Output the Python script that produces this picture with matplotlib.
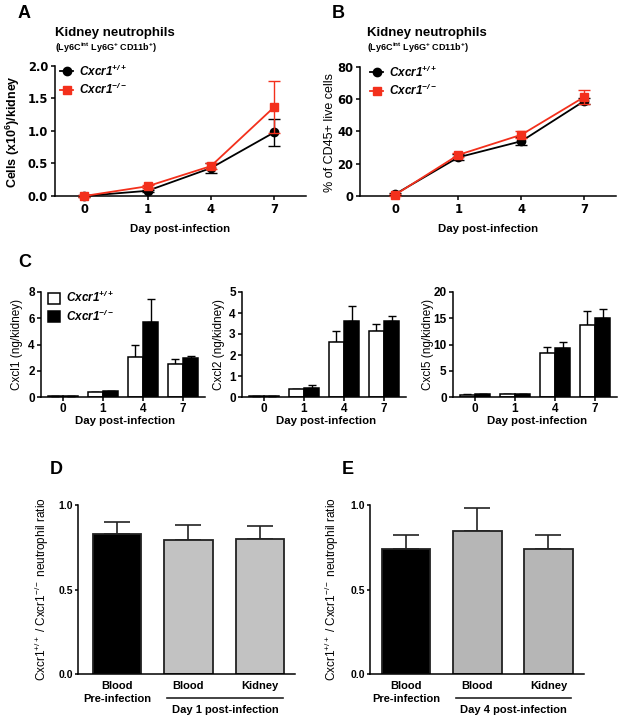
import matplotlib
matplotlib.use('Agg')
import matplotlib.pyplot as plt
import numpy as np
from matplotlib.patches import Patch
from matplotlib.lines import Line2D
import matplotlib.transforms as mtransforms

plt.rcParams['font.family'] = ['Liberation Sans', 'DejaVu Sans']
plt.rcParams['mathtext.fontset'] = 'custom'
plt.rcParams['mathtext.rm'] = 'Liberation Sans'
plt.rcParams['mathtext.it'] = 'Liberation Sans:italic'
plt.rcParams['mathtext.bf'] = 'Liberation Sans:bold'
plt.rcParams['mathtext.sf'] = 'Liberation Sans:bold:italic'

# ---------------- data ----------------
days = ['0', '1', '4', '7']

a_wt = [0.0, 0.08, 0.43, 0.98]
a_wt_err = [0.01, 0.02, 0.07, 0.21]
a_ko = [0.0, 0.15, 0.46, 1.37]
a_ko_err = [0.01, 0.02, 0.05, 0.40]

b_wt = [1.2, 24.0, 34.0, 59.0]
b_wt_err = [0.8, 1.8, 2.5, 1.8]
b_ko = [0.8, 25.5, 38.0, 61.5]
b_ko_err = [0.5, 1.2, 2.0, 4.5]

c1_wt = [0.05, 0.35, 3.05, 2.5]
c1_wt_err = [0.01, 0.04, 0.9, 0.42]
c1_ko = [0.05, 0.42, 5.7, 3.0]
c1_ko_err = [0.01, 0.06, 1.75, 0.12]

c2_wt = [0.04, 0.36, 2.6, 3.15]
c2_wt_err = [0.01, 0.03, 0.55, 0.32]
c2_ko = [0.04, 0.45, 3.63, 3.62]
c2_ko_err = [0.01, 0.10, 0.72, 0.25]

c3_wt = [0.45, 0.55, 8.3, 13.8]
c3_wt_err = [0.05, 0.05, 1.2, 2.5]
c3_ko = [0.6, 0.5, 9.3, 15.1]
c3_ko_err = [0.05, 0.05, 1.2, 1.6]

de_labels = ['Blood\nPre-infection', 'Blood', 'Kidney']
d_vals = [0.83, 0.79, 0.80]
d_err = [0.07, 0.09, 0.075]
e_vals = [0.74, 0.845, 0.74]
e_err = [0.085, 0.135, 0.085]

RED = '#f3301c'
GRAY_D = '#c2c2c2'
GRAY_E = '#b6b6b6'

# ---------------- figure ----------------
W, H = 624, 723
fig = plt.figure(figsize=(W / 100, H / 100), dpi=100)


def add_ax(l, t, r, b):
    return fig.add_axes([l / W, 1 - b / H, (r - l) / W, (b - t) / H])


def ftext(x, y, s, **kw):
    return fig.text(x / W, 1 - y / H, s, **kw)


def style(ax, lw=1.1):
    for s in ['top', 'right']:
        ax.spines[s].set_visible(False)
    for s in ['left', 'bottom']:
        ax.spines[s].set_linewidth(lw)
    ax.tick_params(direction='out', length=3, width=lw, pad=2)


def noclip(container):
    for art in container.get_children():
        art.set_clip_on(False)


x4 = np.arange(len(days))

LEG_WT = r'$\mathsf{Cxcr1}^{\mathsf{+/+}}$'
LEG_KO = r'$\mathsf{Cxcr1}^{\mathsf{-/-}}$'

tick_font_ab = dict(family='DejaVu Sans', weight='bold', size=8.3)


def line_panel(ax, wt, wt_err, ko, ko_err, ylim, yticks, fmt, xlim):
    style(ax)
    c1 = ax.errorbar(x4, wt, yerr=wt_err, color='black', marker='o', ms=6,
                     lw=1.3, capsize=4, capthick=1, elinewidth=1, zorder=3)
    c2 = ax.errorbar(x4, ko, yerr=ko_err, color=RED, marker='s', ms=5.5,
                     lw=1.3, capsize=4, capthick=1, elinewidth=1, zorder=4)
    noclip(c1)
    noclip(c2)
    ax.set_xlim(*xlim)
    ax.set_ylim(*ylim)
    ax.set_xticks(x4)
    ax.set_xticklabels(days)
    ax.set_yticks(yticks)
    ax.set_yticklabels([fmt % v for v in yticks])
    for lab in ax.get_xticklabels() + ax.get_yticklabels():
        lab.set_fontproperties(matplotlib.font_manager.FontProperties(**tick_font_ab))
    handles = [Line2D([], [], color='black', marker='o', ms=6, lw=1.3),
               Line2D([], [], color=RED, marker='s', ms=5.5, lw=1.3)]
    return handles


# ---------------- Panel A ----------------
axA = add_ax(55, 66, 306, 196)
hA = line_panel(axA, a_wt, a_wt_err, a_ko, a_ko_err, (0, 2.0),
                [0, 0.5, 1.0, 1.5, 2.0], '%.1f', (-0.46, 3.5))
axA.legend(hA, [LEG_WT, LEG_KO], loc='upper left', bbox_to_anchor=(0.02, 1.02),
           frameon=False, fontsize=8.5, handlelength=1.1, handletextpad=0.5,
           borderpad=0, borderaxespad=0, labelspacing=0.25)
ftext(18, 14, 'A', fontsize=13, weight='bold', ha='left', va='center')
ftext(55, 33, 'Kidney neutrophils', fontsize=9.5, weight='bold', ha='left', va='center')
ftext(55, 48, r'(Ly6C$^{\mathbf{int}}$ Ly6G$^{\mathbf{+}}$ CD11b$^{\mathbf{+}}$)',
      fontsize=6.5, weight='bold', ha='left', va='center')
ftext(13, 132, r'Cells (x10$^{\mathbf{6}}$)/kidney', fontsize=9, weight='bold',
      rotation=90, ha='center', va='center')
ftext(180, 229, 'Day post-infection', fontsize=8.2, weight='bold', ha='center', va='center')

# ---------------- Panel B ----------------
axB = add_ax(360, 67, 616, 196)
hB = line_panel(axB, b_wt, b_wt_err, b_ko, b_ko_err, (0, 80),
                [0, 20, 40, 60, 80], '%d', (-0.56, 3.5))
axB.legend(hB, [LEG_WT, LEG_KO], loc='upper left', bbox_to_anchor=(0.04, 1.02),
           frameon=False, fontsize=8.5, handlelength=1.1, handletextpad=0.5,
           borderpad=0, borderaxespad=0, labelspacing=0.25)
ftext(332, 14, 'B', fontsize=13, weight='bold', ha='left', va='center')
ftext(367, 33, 'Kidney neutrophils', fontsize=9.5, weight='bold', ha='left', va='center')
ftext(367, 48, r'(Ly6C$^{\mathbf{int}}$ Ly6G$^{\mathbf{+}}$ CD11b$^{\mathbf{+}}$)',
      fontsize=6.5, weight='bold', ha='left', va='center')
ftext(330, 132, '% of CD45+ live cells', fontsize=9, rotation=90, ha='center', va='center')
ftext(488, 229, 'Day post-infection', fontsize=8.2, weight='bold', ha='center', va='center')

# ---------------- Panel C ----------------
ftext(18, 262, 'C', fontsize=13, weight='bold', ha='left', va='center')

c_specs = [
    ((41, 292, 205, 397), c1_wt, c1_wt_err, c1_ko, c1_ko_err, 8, [0, 2, 4, 6, 8], 'Cxcl1 (ng/kidney)', 17),
    ((242, 292, 406, 397), c2_wt, c2_wt_err, c2_ko, c2_ko_err, 5, [0, 1, 2, 3, 4, 5], 'Cxcl2 (ng/kidney)', 219),
    ((453, 292, 617, 397), c3_wt, c3_wt_err, c3_ko, c3_ko_err, 20, [0, 5, 10, 15, 20], 'Cxcl5 (ng/kidney)', 428),
]
bw = 0.37
off = 0.195
for i, (box, wt, wte, ko, koe, ymax, yt, ylab, ylx) in enumerate(c_specs):
    ax = add_ax(*box)
    style(ax)
    ax.bar(x4 - off, wt, width=bw, color='white', edgecolor='black', lw=1.1, zorder=2)
    ax.bar(x4 + off, ko, width=bw, color='black', edgecolor='black', lw=1.1, zorder=2)
    ax.errorbar(x4 - off, wt, yerr=[np.zeros(4), wte], fmt='none', ecolor='black',
                elinewidth=1, capsize=2.8, capthick=1, zorder=1)
    ax.errorbar(x4 + off, ko, yerr=[np.zeros(4), koe], fmt='none', ecolor='black',
                elinewidth=1, capsize=2.8, capthick=1, zorder=1)
    ax.set_xlim(-0.55, 3.55)
    ax.set_ylim(0, ymax)
    ax.set_xticks(x4)
    ax.set_xticklabels(days)
    ax.set_yticks(yt)
    ax.tick_params(labelsize=8.5, pad=1.5)
    for lab in ax.get_xticklabels() + ax.get_yticklabels():
        lab.set_fontweight('bold')
    ftext(ylx, (box[1] + box[3]) / 2, ylab, fontsize=8.5, rotation=90, ha='center', va='center')
    ftext((box[0] + box[2]) / 2 + 2, 421, 'Day post-infection', fontsize=8.2,
          weight='bold', ha='center', va='center')
    if i == 0:
        hC = [Patch(facecolor='white', edgecolor='black', lw=1.1),
              Patch(facecolor='black', edgecolor='black', lw=1.1)]
        ax.legend(hC, [LEG_WT, LEG_KO], loc='upper left', bbox_to_anchor=(0.04, 1.02),
                  frameon=False, fontsize=8.5, handlelength=1.05, handleheight=1.05,
                  handletextpad=0.5, borderpad=0, borderaxespad=0, labelspacing=0.3)

# ---------------- Panels D & E ----------------
YLAB_DE = r'Cxcr1$^{\mathrm{+/+}}$ / Cxcr1$^{\mathrm{-/-}}$ neutrophil ratio'


def ratio_panel(box, vals, errs, gray, xlim, day_text, ylx):
    ax = add_ax(*box)
    style(ax)
    xs = np.arange(len(vals))
    cols = ['black', gray, gray]
    ax.bar(xs, vals, width=0.68, color=cols, edgecolor='#222222', lw=1.3, zorder=2)
    ax.errorbar(xs, vals, yerr=[np.zeros(len(vals)), errs], fmt='none', ecolor='#222222',
                elinewidth=1.2, capsize=9.5, capthick=1.2, zorder=1)
    ax.set_xlim(*xlim)
    ax.set_ylim(0, 1.0)
    ax.set_yticks([0, 0.5, 1.0])
    ax.set_yticklabels(['0.0', '0.5', '1.0'])
    ax.set_xticks(xs)
    ax.set_xticklabels(de_labels, linespacing=1.35)
    ax.tick_params(axis='x', length=0, pad=5, labelsize=8)
    ax.tick_params(axis='y', length=2.5, pad=1, labelsize=7.5)
    for lab in ax.get_xticklabels() + ax.get_yticklabels():
        lab.set_fontweight('bold')
    trans = mtransforms.blended_transform_factory(ax.transData, ax.transAxes)
    hgt = box[3] - box[1]
    yline = (box[3] - 698) / hgt
    ax.plot([0.7, 2.32], [yline, yline], color='#222222', lw=1.2, transform=trans,
            clip_on=False)
    ax.text(1.51, (box[3] - 710) / hgt, day_text, transform=trans, ha='center',
            va='center', fontsize=8, weight='bold')
    ftext(ylx, (box[1] + box[3]) / 2, YLAB_DE, fontsize=8.5, rotation=90,
          ha='center', va='center')
    return ax


ratio_panel((78, 505, 295, 674), d_vals, d_err, GRAY_D, (-0.545, 2.49),
            'Day 1 post-infection', 42)
ratio_panel((370, 505, 584, 674), e_vals, e_err, GRAY_E, (-0.51, 2.5),
            'Day 4 post-infection', 332)
ftext(50, 470, 'D', fontsize=13, weight='bold', ha='left', va='center')
ftext(342, 470, 'E', fontsize=13, weight='bold', ha='left', va='center')

fig.savefig('out.png', dpi=100)
